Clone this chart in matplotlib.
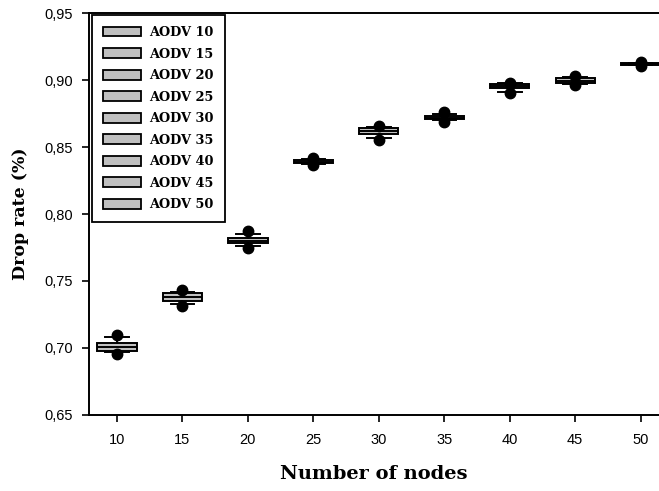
import matplotlib.pyplot as plt
from matplotlib.patches import Patch
from matplotlib.ticker import FuncFormatter

# values
nodes = [10, 15, 20, 25, 30, 35, 40, 45, 50]
q1 = [0.698, 0.735, 0.778, 0.838, 0.860, 0.871, 0.894, 0.898, 0.9115]
med = [0.701, 0.738, 0.780, 0.839, 0.862, 0.872, 0.8955, 0.8995, 0.912]
q3 = [0.704, 0.741, 0.782, 0.8405, 0.864, 0.873, 0.897, 0.9015, 0.9125]
whislo = [0.697, 0.733, 0.776, 0.837, 0.857, 0.870, 0.891, 0.897, 0.911]
whishi = [0.708, 0.742, 0.785, 0.841, 0.865, 0.875, 0.8975, 0.902, 0.913]
flier_hi = [0.7095, 0.743, 0.787, 0.8415, 0.866, 0.876, 0.898, 0.903, 0.9135]
flier_lo = [0.6955, 0.731, 0.775, 0.8365, 0.855, 0.869, 0.890, 0.8965, 0.9105]
labels = [f"AODV {n}" for n in nodes]

BOX_GRAY = "#c0c0c0"
SERIF_BOLD = dict(family="DejaVu Serif", weight="bold")

plt.rcParams["font.family"] = ["Liberation Sans", "DejaVu Sans"]

fig = plt.figure(figsize=(6.59, 4.91), dpi=100)
ax = fig.add_axes([0.1358, 0.1548, 0.8642, 0.8187])

stats = []
for i in range(len(nodes)):
    stats.append(dict(
        q1=q1[i], med=med[i], q3=q3[i],
        whislo=whislo[i], whishi=whishi[i],
        fliers=[flier_hi[i], flier_lo[i]],
    ))

ax.bxp(
    stats, positions=nodes, widths=3.0, capwidths=1.8,
    patch_artist=True, manage_ticks=False,
    boxprops=dict(facecolor=BOX_GRAY, edgecolor="black", linewidth=1.4),
    medianprops=dict(color="black", linewidth=1.4),
    whiskerprops=dict(color="black", linewidth=1.4),
    capprops=dict(color="black", linewidth=1.4),
    flierprops=dict(marker="o", markerfacecolor="black", markeredgecolor="black",
                    markersize=7.5, linestyle="none"),
)

ax.set_xlim(7.9, 51.4)
ax.set_ylim(0.65, 0.95)
ax.set_xticks(nodes)
ax.set_yticks([0.65, 0.70, 0.75, 0.80, 0.85, 0.90, 0.95])
ax.yaxis.set_major_formatter(FuncFormatter(lambda v, _: f"{v:.2f}".replace(".", ",")))
ax.tick_params(direction="out", length=5, width=1.2, labelsize=10.5, pad=7)
ax.tick_params(axis="x", pad=8)

for side in ["left", "bottom", "top"]:
    ax.spines[side].set_linewidth(1.4)
ax.spines["right"].set_visible(False)

ax.set_xlabel("Number of nodes", fontsize=14, labelpad=13, **SERIF_BOLD)
ax.set_ylabel("Drop rate (%)", fontsize=12.5, labelpad=11, **SERIF_BOLD)

handles = [Patch(facecolor=BOX_GRAY, edgecolor="black", linewidth=1.3) for _ in labels]
leg = ax.legend(
    handles, labels, loc="upper left", bbox_to_anchor=(0.005, 0.995),
    borderaxespad=0, prop=dict(size=9.3, **SERIF_BOLD),
    handlelength=2.9, handleheight=0.8, labelspacing=0.66,
    fancybox=False, framealpha=1, edgecolor="black",
    borderpad=0.85, handletextpad=0.65,
)
leg.get_frame().set_linewidth(1.3)

fig.savefig("out.png", dpi=100)
